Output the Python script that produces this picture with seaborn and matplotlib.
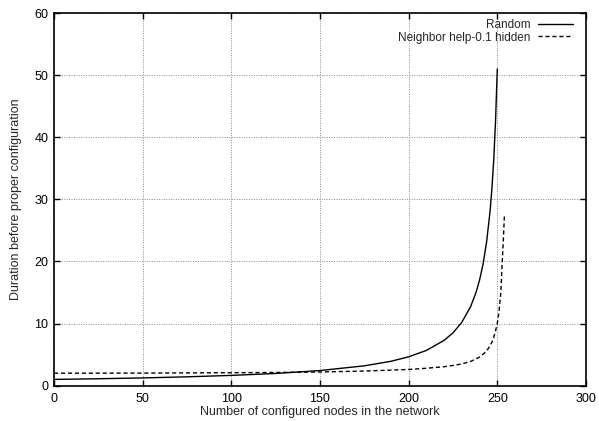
import pandas as pd
import matplotlib
matplotlib.use("Agg")
import matplotlib.pyplot as plt
import seaborn as sns

# valores
random_x = [0, 25, 50, 75, 100, 125, 150, 175, 190, 200, 210, 220, 225, 230,
            235, 238, 240, 242, 244, 246, 247, 248, 249, 250]
random_y = [1.0, 1.11, 1.24, 1.42, 1.65, 1.96, 2.43, 3.19, 3.92, 4.64, 5.67,
            7.29, 8.5, 10.2, 12.75, 15.0, 17.0, 19.6, 23.2, 28.3, 31.9, 36.4,
            42.5, 51.0]

neighbor_x = [0, 50, 100, 125, 150, 175, 200, 210, 220, 225, 230, 235, 240,
              243, 245, 247, 248, 249, 250, 251, 252, 252.8, 253.5, 254]
neighbor_y = [2.0, 2.02, 2.08, 2.12, 2.2, 2.35, 2.6, 2.8, 3.05, 3.25, 3.5, 3.9,
              4.6, 5.3, 6.0, 7.0, 7.8, 8.8, 10.0, 12.0, 15.0, 20.0, 24.0, 27.3]

labels = ["Random", "Neighbor help-0.1 hidden"]
x_ticks = [0, 50, 100, 150, 200, 250, 300]
y_ticks = [0, 10, 20, 30, 40, 50, 60]

df_random = pd.DataFrame({"nodes": random_x, "duration": random_y})
df_neighbor = pd.DataFrame({"nodes": neighbor_x, "duration": neighbor_y})

sns.set_style("ticks")
plt.rcParams["font.family"] = ["Liberation Sans", "DejaVu Sans"]

fig = plt.figure(figsize=(5.99, 4.21), dpi=100)
ax = fig.add_axes([0.0902, 0.084, 0.888, 0.885])

sns.lineplot(data=df_random, x="nodes", y="duration", ax=ax, color="black",
             linewidth=1.0, label=labels[0], sort=False)
sns.lineplot(data=df_neighbor, x="nodes", y="duration", ax=ax, color="black",
             linewidth=1.0, linestyle=(0, (3, 2)), label=labels[1], sort=False)

ax.set_xlim(0, 300)
ax.set_ylim(0, 60)
ax.set_xticks(x_ticks)
ax.set_yticks(y_ticks)
ax.grid(True, color="#888888", linestyle=(0, (1, 1.5)), linewidth=0.7)
ax.tick_params(direction="in", length=4, width=1.0, top=True, right=True,
               labelsize=9, colors="black")
ax.tick_params(axis="x", pad=5)
ax.tick_params(axis="y", pad=4)
for s in ax.spines.values():
    s.set_linewidth(1.2)
    s.set_color("black")

ax.set_xlabel("Number of configured nodes in the network", fontsize=9, labelpad=1)
ax.set_ylabel("Duration before proper configuration", fontsize=9, labelpad=9)

ax.legend(loc="upper right", bbox_to_anchor=(0.987, 1.0), frameon=False,
          markerfirst=False, fontsize=8.5, handlelength=3.0, borderaxespad=0.1,
          labelspacing=0.05, handletextpad=0.6)

fig.savefig("out.png", dpi=100)
